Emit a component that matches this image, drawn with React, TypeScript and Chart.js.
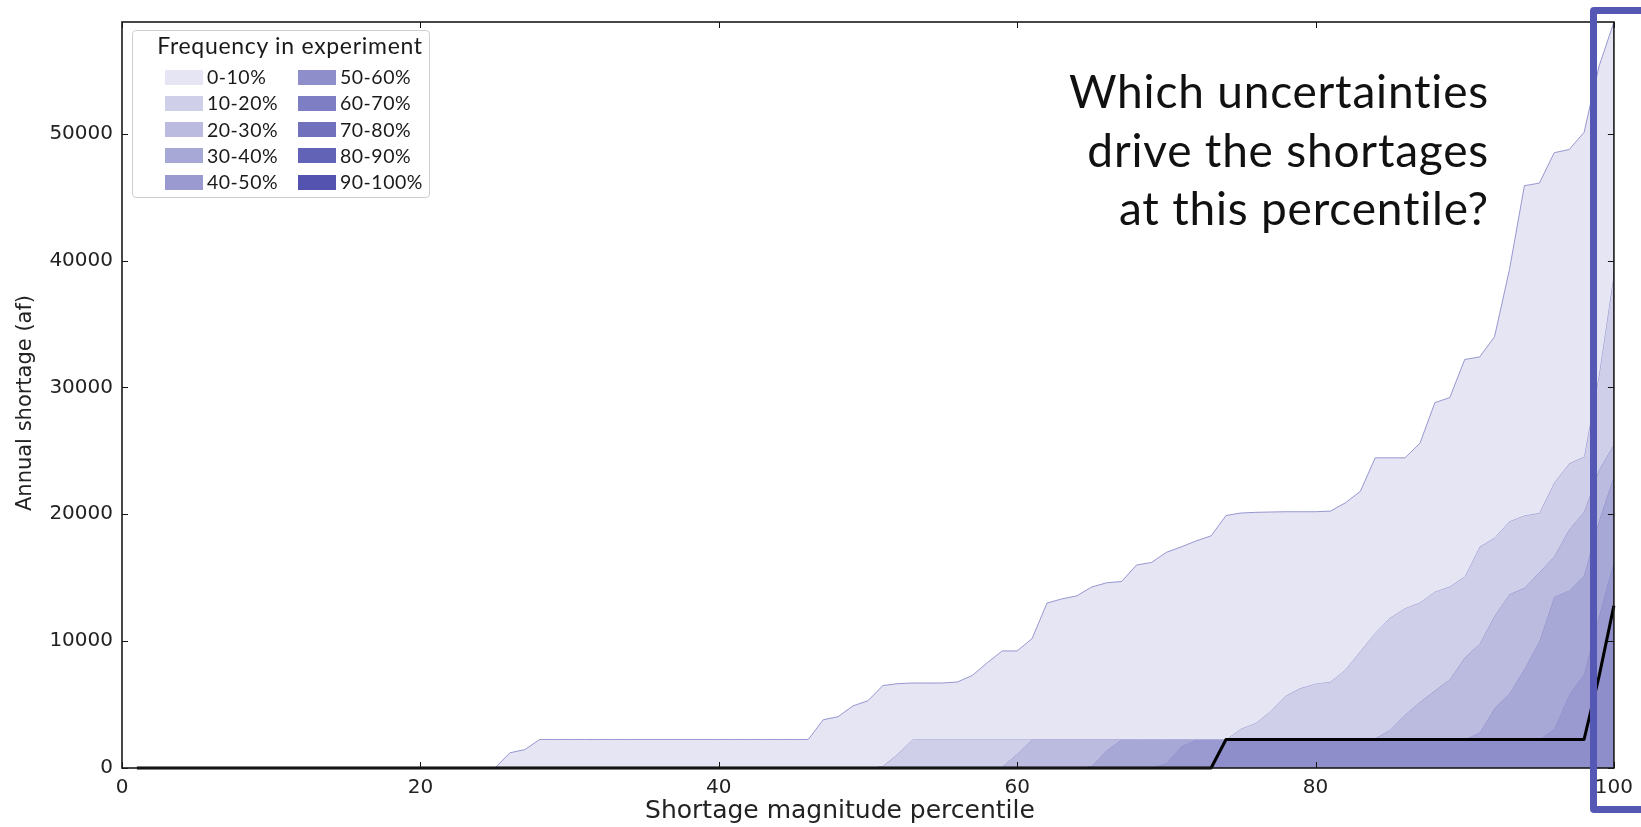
import React, { useEffect, useRef } from 'react';
import { Chart, registerables } from 'chart.js';

Chart.register(...registerables);

// Shortage magnitude percentile (x positions of every series)
const percentiles = [
  1, 2, 3, 4, 5, 6, 7, 8, 9, 10,
  11, 12, 13, 14, 15, 16, 17, 18, 19, 20,
  21, 22, 23, 24, 25, 26, 27, 28, 29, 30,
  31, 32, 33, 34, 35, 36, 37, 38, 39, 40,
  41, 42, 43, 44, 45, 46, 47, 48, 49, 50,
  51, 52, 53, 54, 55, 56, 57, 58, 59, 60,
  61, 62, 63, 64, 65, 66, 67, 68, 69, 70,
  71, 72, 73, 74, 75, 76, 77, 78, 79, 80,
  81, 82, 83, 84, 85, 86, 87, 88, 89, 90,
  91, 92, 93, 94, 95, 96, 97, 98, 99, 100,
];

// Annual shortage (af) across the experiment, per frequency boundary
const maxShortage = [
  0, 0, 0, 0, 0, 0, 0, 0, 0, 0,
  0, 0, 0, 0, 0, 0, 0, 0, 0, 0,
  0, 0, 0, 0, 0, 1200, 1450, 2250, 2250, 2250,
  2250, 2250, 2250, 2250, 2250, 2250, 2250, 2250, 2250, 2250,
  2250, 2250, 2250, 2250, 2250, 2250, 3800, 4050, 4900, 5300,
  6500, 6650, 6700, 6700, 6700, 6780, 7300, 8300, 9230, 9230,
  10200, 13000, 13330, 13570, 14270, 14600, 14700, 16000, 16200, 17000,
  17430, 17900, 18300, 19900, 20100, 20150, 20180, 20200, 20200, 20200,
  20250, 20900, 21800, 24450, 24450, 24450, 25600, 28800, 29200, 32200,
  32400, 34000, 39300, 45900, 46100, 48500, 48750, 50100, 55300, 58800,
];

const p90 = [
  0, 0, 0, 0, 0, 0, 0, 0, 0, 0,
  0, 0, 0, 0, 0, 0, 0, 0, 0, 0,
  0, 0, 0, 0, 0, 0, 0, 0, 0, 0,
  0, 0, 0, 0, 0, 0, 0, 0, 0, 0,
  0, 0, 0, 0, 0, 0, 0, 0, 0, 0,
  150, 1100, 2250, 2250, 2250, 2250, 2250, 2250, 2250, 2250,
  2250, 2250, 2250, 2250, 2250, 2250, 2250, 2250, 2250, 2250,
  2250, 2250, 2250, 2250, 3100, 3550, 4500, 5700, 6300, 6650,
  6800, 7750, 9200, 10650, 11850, 12600, 13050, 13900, 14300, 15100,
  17430, 18150, 19450, 19900, 20100, 22500, 24000, 24550, 31000, 39000,
];

const p80 = [
  0, 0, 0, 0, 0, 0, 0, 0, 0, 0,
  0, 0, 0, 0, 0, 0, 0, 0, 0, 0,
  0, 0, 0, 0, 0, 0, 0, 0, 0, 0,
  0, 0, 0, 0, 0, 0, 0, 0, 0, 0,
  0, 0, 0, 0, 0, 0, 0, 0, 0, 0,
  0, 0, 0, 0, 0, 0, 0, 0, 100, 1100,
  2250, 2250, 2250, 2250, 2250, 2250, 2250, 2250, 2250, 2250,
  2250, 2250, 2250, 2250, 2250, 2250, 2250, 2250, 2250, 2250,
  2250, 2250, 2250, 2350, 3000, 4200, 5200, 6100, 7000, 8700,
  9800, 12000, 13700, 14200, 15400, 16700, 18800, 20200, 23500, 25500,
];

const p70 = [
  0, 0, 0, 0, 0, 0, 0, 0, 0, 0,
  0, 0, 0, 0, 0, 0, 0, 0, 0, 0,
  0, 0, 0, 0, 0, 0, 0, 0, 0, 0,
  0, 0, 0, 0, 0, 0, 0, 0, 0, 0,
  0, 0, 0, 0, 0, 0, 0, 0, 0, 0,
  0, 0, 0, 0, 0, 0, 0, 0, 0, 0,
  0, 0, 0, 0, 150, 1400, 2250, 2250, 2250, 2250,
  2250, 2250, 2250, 2250, 2250, 2250, 2250, 2250, 2250, 2250,
  2250, 2250, 2250, 2250, 2250, 2250, 2250, 2250, 2250, 2250,
  2800, 4700, 5900, 7800, 10000, 13500, 14000, 15200, 19500, 23000,
];

const p60 = [
  0, 0, 0, 0, 0, 0, 0, 0, 0, 0,
  0, 0, 0, 0, 0, 0, 0, 0, 0, 0,
  0, 0, 0, 0, 0, 0, 0, 0, 0, 0,
  0, 0, 0, 0, 0, 0, 0, 0, 0, 0,
  0, 0, 0, 0, 0, 0, 0, 0, 0, 0,
  0, 0, 0, 0, 0, 0, 0, 0, 0, 0,
  0, 0, 0, 0, 0, 0, 0, 0, 0, 400,
  1700, 2250, 2250, 2250, 2250, 2250, 2250, 2250, 2250, 2250,
  2250, 2250, 2250, 2250, 2250, 2250, 2250, 2250, 2250, 2250,
  2250, 2250, 2250, 2250, 2250, 3100, 5800, 7400, 12000, 16300,
];

const p50 = [
  0, 0, 0, 0, 0, 0, 0, 0, 0, 0,
  0, 0, 0, 0, 0, 0, 0, 0, 0, 0,
  0, 0, 0, 0, 0, 0, 0, 0, 0, 0,
  0, 0, 0, 0, 0, 0, 0, 0, 0, 0,
  0, 0, 0, 0, 0, 0, 0, 0, 0, 0,
  0, 0, 0, 0, 0, 0, 0, 0, 0, 0,
  0, 0, 0, 0, 0, 0, 0, 0, 0, 0,
  0, 0, 0, 2250, 2250, 2250, 2250, 2250, 2250, 2250,
  2250, 2250, 2250, 2250, 2250, 2250, 2250, 2250, 2250, 2250,
  2250, 2250, 2250, 2250, 2250, 2250, 2250, 2250, 7200, 12800,
];

// Historical shortage record
const historical = [
  0, 0, 0, 0, 0, 0, 0, 0, 0, 0,
  0, 0, 0, 0, 0, 0, 0, 0, 0, 0,
  0, 0, 0, 0, 0, 0, 0, 0, 0, 0,
  0, 0, 0, 0, 0, 0, 0, 0, 0, 0,
  0, 0, 0, 0, 0, 0, 0, 0, 0, 0,
  0, 0, 0, 0, 0, 0, 0, 0, 0, 0,
  0, 0, 0, 0, 0, 0, 0, 0, 0, 0,
  0, 0, 0, 2250, 2250, 2250, 2250, 2250, 2250, 2250,
  2250, 2250, 2250, 2250, 2250, 2250, 2250, 2250, 2250, 2250,
  2250, 2250, 2250, 2250, 2250, 2250, 2250, 2250, 7200, 12800,
];

const bandLabels = [
  '0-10%', '10-20%', '20-30%', '30-40%', '40-50%',
  '50-60%', '60-70%', '70-80%', '80-90%', '90-100%',
];
const bandColors = [
  '#e5e5f3', '#cfcfe9', '#bbbbdf', '#a8a8d7', '#9a9ad1',
  '#8e8ecb', '#7e7ec4', '#7070bd', '#6262b7', '#5454b0',
];

const xTicks = [0, 20, 40, 60, 80, 100];
const yTicks = [0, 10000, 20000, 30000, 40000, 50000];

const xTitle = 'Shortage magnitude percentile';
const yTitle = 'Annual shortage (af)';
const legendTitle = 'Frequency in experiment';
const questionLines = ['Which uncertainties', 'drive the shortages', 'at this percentile?'];

const W = 1641;
const H = 827;

const toPoints = (values: number[]) => values.map((v, i) => ({ x: percentiles[i], y: v }));

// inward tick marks on all four sides, the axes frame and both axis labels
const frameAndTicks = {
  id: 'frameAndTicks',
  afterDraw(chart: any) {
    const { ctx, chartArea } = chart;
    const { left, right, top, bottom } = chartArea;
    const xs = chart.scales.x;
    const ys = chart.scales.y;
    const len = 6;
    ctx.save();
    ctx.strokeStyle = '#111';
    ctx.lineWidth = 1;
    ctx.beginPath();
    xs.ticks.forEach((t: any) => {
      const px = Math.round(xs.getPixelForValue(t.value)) + 0.5;
      ctx.moveTo(px, bottom);
      ctx.lineTo(px, bottom - len);
      ctx.moveTo(px, top);
      ctx.lineTo(px, top + len);
    });
    ys.ticks.forEach((t: any) => {
      const py = Math.round(ys.getPixelForValue(t.value)) + 0.5;
      ctx.moveTo(left, py);
      ctx.lineTo(left + len, py);
      ctx.moveTo(right, py);
      ctx.lineTo(right - len, py);
    });
    ctx.stroke();
    ctx.lineWidth = 1.6;
    ctx.strokeStyle = '#1a1a1a';
    ctx.strokeRect(left, top, right - left, bottom - top);

    ctx.fillStyle = '#222';
    ctx.textAlign = 'center';
    ctx.textBaseline = 'middle';

    // x-axis label, a little left of the axis centre
    ctx.font = '25px "DejaVu Sans", sans-serif';
    ctx.fillText(xTitle, (left + right) / 2 - 28, bottom + 43);

    // y-axis label, rotated, a little below the axis centre
    ctx.font = '21px "DejaVu Sans", sans-serif';
    ctx.translate(26, (top + bottom) / 2 + 8);
    ctx.rotate(-Math.PI / 2);
    ctx.fillText(yTitle, 0, 0);
    ctx.restore();
  },
};

export default function App() {
  const canvasRef = useRef<HTMLCanvasElement>(null);

  useEffect(() => {
    const canvas = canvasRef.current;
    if (!canvas) return;
    const bandSeries = [maxShortage, p90, p80, p70, p60, p50];
    const datasets: any[] = [
      {
        label: 'Historical',
        data: toPoints(historical),
        borderColor: '#000000',
        borderWidth: 3,
        fill: false,
        clip: false,
        pointRadius: 0,
        tension: 0,
      },
      ...bandSeries.map((series, i) => ({
        label: bandLabels[i],
        data: toPoints(series),
        borderColor: 'rgba(120,120,195,0.75)',
        borderWidth: 1,
        backgroundColor: bandColors[i],
        fill: i < bandSeries.length - 1 ? i + 2 : 'origin',
        pointRadius: 0,
        tension: 0,
      })),
    ];

    const tickFont = { family: '"DejaVu Sans", sans-serif', size: 20 };

    const chart = new Chart(canvas, {
      type: 'line',
      data: { datasets },
      options: {
        responsive: false,
        animation: false,
        devicePixelRatio: 1,
        layout: { padding: { left: 0, top: 22, right: 20, bottom: 0 } },
        plugins: {
          legend: { display: false },
          tooltip: { enabled: false },
        },
        elements: { line: { borderJoinStyle: 'round' } },
        scales: {
          x: {
            type: 'linear',
            min: 0,
            max: 100,
            grid: { display: false, drawTicks: false },
            border: { display: false },
            afterBuildTicks: (scale: any) => {
              scale.ticks = xTicks.map((v) => ({ value: v }));
            },
            afterFit: (scale: any) => {
              scale.height = 59;
            },
            ticks: {
              padding: 8,
              color: '#222',
              font: tickFont,
              maxRotation: 0,
              callback: (v: any) => String(v),
            },
          },
          y: {
            type: 'linear',
            min: 0,
            max: 58800,
            grid: { display: false, drawTicks: false },
            border: { display: false },
            afterBuildTicks: (scale: any) => {
              scale.ticks = yTicks.map((v) => ({ value: v }));
            },
            afterFit: (scale: any) => {
              scale.width = 122;
            },
            ticks: {
              padding: 9,
              color: '#222',
              font: tickFont,
              callback: (v: any) => String(v),
            },
          },
        },
      },
      plugins: [frameAndTicks],
    } as any);

    return () => chart.destroy();
  }, []);

  const textFont = 'Lato, "Noto Sans", sans-serif';

  return (
    <div
      style={{
        position: 'fixed',
        left: 0,
        top: 0,
        width: W,
        height: H,
        overflow: 'hidden',
        background: '#ffffff',
      }}
    >
      <canvas ref={canvasRef} width={W} height={H} style={{ display: 'block', width: W, height: H }} />

      {/* legend box */}
      <div
        style={{
          position: 'absolute',
          left: 132,
          top: 30,
          width: 298,
          height: 168,
          boxSizing: 'border-box',
          border: '1px solid #cfcfcf',
          borderRadius: 4,
          background: '#ffffff',
          fontFamily: textFont,
          fontVariantLigatures: 'none',
          color: '#1a1a1a',
        }}
      >
        <div
          style={{
            position: 'absolute',
            left: 9,
            width: '100%',
            top: 1,
            textAlign: 'center',
            fontSize: 23,
            letterSpacing: 0.7,
            lineHeight: '26px',
            whiteSpace: 'nowrap',
          }}
        >
          {legendTitle}
        </div>
        {bandLabels.map((label, i) => {
          const col = Math.floor(i / 5);
          const row = i % 5;
          const cy = 46 + row * 26.3;
          return (
            <React.Fragment key={label}>
              <div
                style={{
                  position: 'absolute',
                  left: col === 0 ? 32 : 165,
                  top: cy - 7.5,
                  width: 38,
                  height: 15,
                  background: bandColors[i],
                }}
              />
              <div
                style={{
                  position: 'absolute',
                  left: col === 0 ? 74 : 207,
                  top: cy - 10,
                  fontSize: 19.5,
                  letterSpacing: 0.5,
                  lineHeight: '19px',
                  whiteSpace: 'nowrap',
                }}
              >
                {label}
              </div>
            </React.Fragment>
          );
        })}
      </div>

      {/* question annotation */}
      <div
        style={{
          position: 'absolute',
          right: W - 1489,
          top: 62,
          textAlign: 'right',
          fontFamily: textFont,
          fontWeight: 400,
          fontVariantLigatures: 'none',
          fontSize: 46,
          letterSpacing: 0.8,
          lineHeight: '58.5px',
          color: '#111111',
          whiteSpace: 'nowrap',
        }}
      >
        {questionLines.map((line) => (
          <div key={line}>{line}</div>
        ))}
      </div>

      {/* highlight frame around the top percentiles */}
      <div
        style={{
          position: 'absolute',
          left: 1590,
          top: 7,
          width: 120,
          height: 806,
          boxSizing: 'border-box',
          border: '7px solid #5557b4',
          borderRadius: 4,
        }}
      />
    </div>
  );
}
